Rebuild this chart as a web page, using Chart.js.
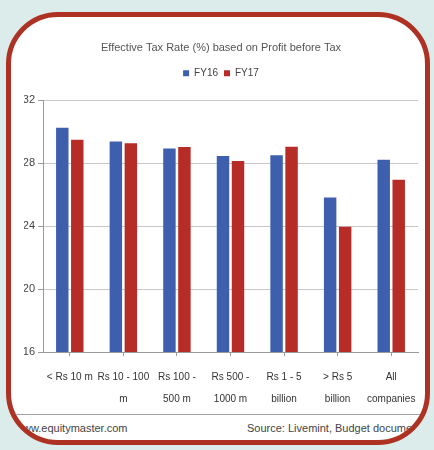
<!DOCTYPE html>
<html lang="en">
<head>
  <meta charset="UTF-8" />
  <title>Effective Tax Rate</title>
  <script src="https://cdn.jsdelivr.net/npm/chart.js"></script>
  <style>
    html, body {
      margin: 0;
      padding: 0;
      width: 434px;
      height: 450px;
      overflow: hidden;
      background: #dbeceb;
      font-family: "Liberation Sans", Arial, sans-serif;
    }

    .frame {
      position: absolute;
      left: 6px;
      top: 12px;
      width: 424px;
      height: 433px;
      box-sizing: border-box;
      border: 5px solid #ad3224;
      border-radius: 52px;
      background: #fff;
      overflow: hidden;
    }

    .footer-line {
      position: absolute;
      left: 0;
      right: 0;
      top: 397px;
      border-top: 1px solid #a0a0a0;
    }

    .footer {
      position: absolute;
      top: 405px;
      font-size: 11px;
      color: #444;
      white-space: nowrap;
    }

    .chart-box {
      position: absolute;
      left: 0;
      top: 0;
      width: 434px;
      height: 450px;
    }
  </style>
</head>
<body>
  <div class="frame">
    <div class="footer-line"></div>
    <div class="footer" style="left: 4px;">www.equitymaster.com</div>
    <div class="footer" style="left: 236px;">Source: Livemint, Budget documents</div>
  </div>

  <div class="chart-box">
    <canvas id="taxChart" width="434" height="450"></canvas>
  </div>

  <script>
    const categories = [
      "< Rs 10 m",
      ["Rs 10 - 100", "m"],
      ["Rs 100 -", "500 m"],
      ["Rs 500 -", "1000 m"],
      ["Rs 1 - 5", "billion"],
      ["> Rs 5", "billion"],
      ["All", "companies"]
    ];
    const fy16 = [30.26, 29.38, 28.94, 28.47, 28.51, 25.83, 28.23];
    const fy17 = [29.49, 29.28, 29.04, 28.15, 29.06, 23.96, 26.96];
    const yTicks = [16, 20, 24, 28, 32];

    new Chart(document.getElementById("taxChart"), {
      type: "bar",
      data: {
        labels: categories,
        datasets: [
          {
            label: "FY16",
            data: fy16,
            backgroundColor: "#3e5fae",
            categoryPercentage: 0.56,
            barPercentage: 0.83
          },
          {
            label: "FY17",
            data: fy17,
            backgroundColor: "#b72c27",
            categoryPercentage: 0.56,
            barPercentage: 0.83
          }
        ]
      },
      options: {
        responsive: false,
        animation: false,
        layout: {
          // left padding pushes title/legend centre to match the picture
          padding: { left: 24, right: 16, top: 41, bottom: 36 }
        },
        plugins: {
          title: {
            display: true,
            text: "Effective Tax Rate (%) based on Profit before Tax",
            color: "#555",
            font: { family: "Liberation Sans", size: 11, weight: "normal" },
            padding: { top: 0, bottom: 8 }
          },
          legend: {
            display: true,
            labels: {
              color: "#444",
              boxWidth: 6,
              boxHeight: 6,
              padding: 6,
              font: { family: "Liberation Sans", size: 10 }
            }
          },
          // empty spacer between the legend and the plot
          subtitle: {
            display: true,
            text: " ",
            weight: 500,
            font: { size: 1 },
            padding: { top: 0, bottom: 11 }
          },
          tooltip: { enabled: false }
        },
        scales: {
          x: {
            afterFit: (s) => { s.height = 62; },
            border: { color: "#9a9a9a" },
            grid: {
              drawOnChartArea: false,
              offset: false,
              tickLength: 4,
              color: "#9a9a9a"
            },
            ticks: {
              color: "#333",
              padding: 10,
              maxRotation: 0,
              autoSkip: false,
              font: { family: "Liberation Sans", size: 10, lineHeight: 2.2 }
            }
          },
          y: {
            min: 16,
            max: 32,
            afterFit: (s) => { s.width = 19; },
            afterBuildTicks: (s) => { s.ticks = yTicks.map((v) => ({ value: v })); },
            border: { color: "#9a9a9a" },
            grid: {
              color: "#c8c8c8",
              tickLength: 5,
              tickColor: "#9a9a9a",
              borderDash: [3, 2]
            },
            ticks: {
              color: "#444",
              padding: 3,
              font: { family: "Liberation Sans", size: 11 }
            }
          }
        }
      }
    });
  </script>
</body>
</html>
